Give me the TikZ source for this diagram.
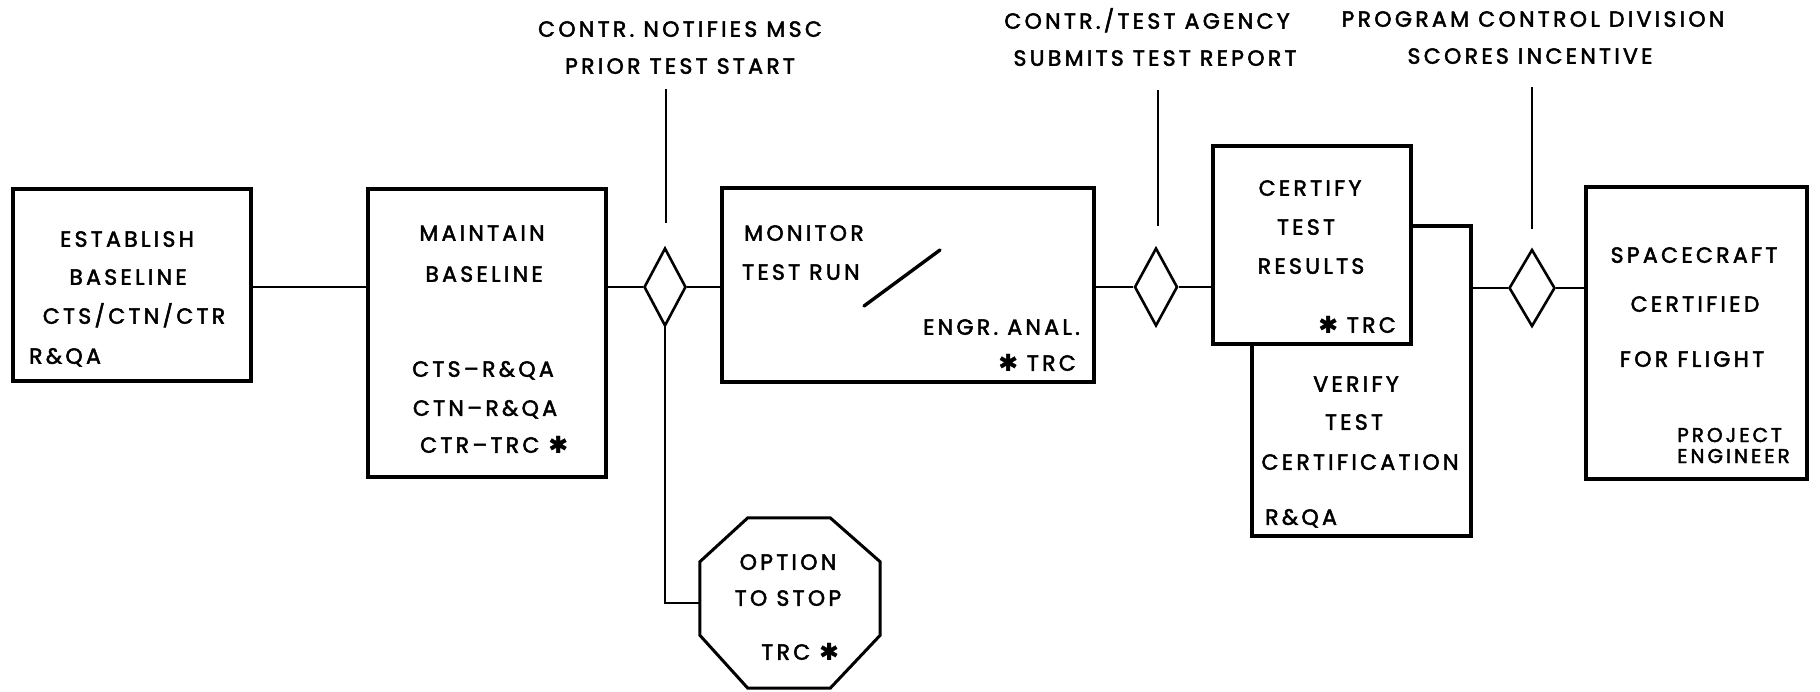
\documentclass[tikz,border=0pt]{standalone}
\usepackage{fontspec}
\setmainfont{Poppins}[LetterSpace=15, FakeBold=2.2]
\newfontfamily\symfont{DejaVu Sans}[FakeBold=1.5]
\usetikzlibrary{shapes.geometric,calc}
\newcommand{\stx}{{\symfont\fontsize{23}{23}\selectfont ✱}}
\tikzset{
  box/.style={draw, line width=3.2pt, fill=white, inner sep=0pt},
  dia/.style={draw, diamond, line width=2.6pt, fill=white, inner sep=0pt},
  conn/.style={line width=2.8pt},
  lab/.style={inner sep=0pt, text height=15.5pt, text depth=0pt, font=\fontsize{22}{22}\selectfont},
  labw/.style={lab, anchor=west},
  labe/.style={lab, anchor=east},
  labs/.style={labw, font=\fontsize{20}{20}\selectfont, text height=14pt},
}
\begin{document}
\begin{tikzpicture}[x=1pt,y=-1pt]
\useasboundingbox (0,0) rectangle (1820,691);
\fill[white] (0,0) rectangle (1820,691);

% boxes
\node[box, minimum width=238pt, minimum height=192pt] (b1) at (132,285) {};
\node[box, minimum width=238pt, minimum height=288pt] (b2) at (487,333) {};
\node[dia, minimum width=42pt, minimum height=78pt] (d1) at (665,287) {};
\node[box, minimum width=372pt, minimum height=194pt] (b3) at (908,285) {};
\node[dia, minimum width=43pt, minimum height=78pt] (d2) at (1156,287) {};
\node[box, minimum width=219pt, minimum height=310pt] (b5) at (1361.5,381) {};
\node[box, minimum width=198pt, minimum height=198pt] (b4) at (1312,245) {};
\node[dia, minimum width=46pt, minimum height=77pt] (d3) at (1532,288) {};
\node[box, minimum width=221pt, minimum height=292pt] (b6) at (1696.5,333) {};
\node[inner sep=0pt, minimum width=180pt, minimum height=170pt] (oct) at (790,603) {};
\draw[line width=3pt, fill=white, line join=miter]
  ($(oct.north west)+(48,0)$) -- ($(oct.north east)+(-50,0)$) --
  ($(oct.north east)+(0,44)$) -- ($(oct.south east)+(0,-53)$) --
  ($(oct.south east)+(-50,0)$) -- ($(oct.south west)+(48,0)$) --
  ($(oct.south west)+(0,-53)$) -- ($(oct.north west)+(0,44)$) -- cycle;

% connectors
\draw[conn] (b1.east |- d1) -- (b2.west |- d1);
\draw[conn] (b2.east |- d1) -- (d1.west);
\draw[conn] (d1.east) -- (d1.east -| b3.west);
\draw[conn] (b3.east |- d2) -- (d2.west);
\draw[conn] (d2.east) -- (d2.east -| b4.west);
\draw[conn] (b5.east |- d3) -- (d3.west);
\draw[conn] (d3.east) -- (d3.east -| b6.west);
\draw[conn] (d1.south) |- (oct.west);

% stems
\coordinate (s1a) at (666,89);  \coordinate (s1b) at (666,223);
\coordinate (s2a) at (1158,90); \coordinate (s2b) at (1158,226);
\coordinate (s3a) at (1532,87); \coordinate (s3b) at (1532,229);
\draw[conn] (s1a) -- (s1b);
\draw[conn] (s2a) -- (s2b);
\draw[conn] (s3a) -- (s3b);
\coordinate (sl1) at (864,306); \coordinate (sl2) at (940,250);
\draw[conn, line width=3.4pt, line cap=round] (sl1) -- (sl2);

% top labels
\node[lab] (t1a) at (680,29) {CONTR. NOTIFIES MSC};
\node[lab] (t1b) at (680,66) {PRIOR TEST START};
\node[lab] (t2a) at (1147,21) {CONTR./TEST AGENCY};
\node[lab] (t2b) at (1155,58) {SUBMITS TEST REPORT};
\node[lab] (t3a) at (1533,19) {PROGRAM CONTROL DIVISION};
\node[lab] (t3b) at (1530,56) {SCORES INCENTIVE};

% box 1
\node[lab] (x11) at (127,239) {ESTABLISH};
\node[lab] (x12) at (128,277) {BASELINE};
\node[lab] (x13) at (134,316) {CTS/CTN/CTR};
\node[labw] (x14) at (29,356) {R\&QA};

% box 2
\node[lab] (x21) at (482,233) {MAINTAIN};
\node[lab] (x22) at (484,274) {BASELINE};
\node[lab] (x23) at (483,369) {CTS–R\&QA};
\node[lab] (x24) at (485,408) {CTN–R\&QA};
\node[lab] (x25) at (494,445) {CTR–TRC \stx};

% box 3
\node[labw] (x31) at (744,233) {MONITOR};
\node[labw] (x32) at (742,272) {TEST RUN};
\node[labe] (x33) at (1080,327) {ENGR. ANAL.};
\node[labe] (x34) at (1076,363) {\stx\ TRC};

% box 4
\node[lab] (x41) at (1310,188) {CERTIFY};
\node[lab] (x42) at (1306,227) {TEST};
\node[lab] (x43) at (1311,266) {RESULTS};
\node[labe] (x44) at (1396,325) {\stx\ TRC};

% box 5
\node[lab] (x51) at (1356,384) {VERIFY};
\node[lab] (x52) at (1354,422) {TEST};
\node[lab] (x53) at (1360,462) {CERTIFICATION};
\node[labw] (x54) at (1265,517) {R\&QA};

% box 6
\node[lab] (x61) at (1694,255) {SPACECRAFT};
\node[lab] (x62) at (1695,304) {CERTIFIED};
\node[lab] (x63) at (1692,359) {FOR FLIGHT};
\node[labs] (x64) at (1677,435) {PROJECT};
\node[labs] (x65) at (1677,456) {ENGINEER};

% octagon
\node[lab] (x71) at (788,562) {OPTION};
\node[lab] (x72) at (788,598) {TO STOP};
\node[lab] (x73) at (800,652) {TRC \stx};
\end{tikzpicture}
\end{document}
